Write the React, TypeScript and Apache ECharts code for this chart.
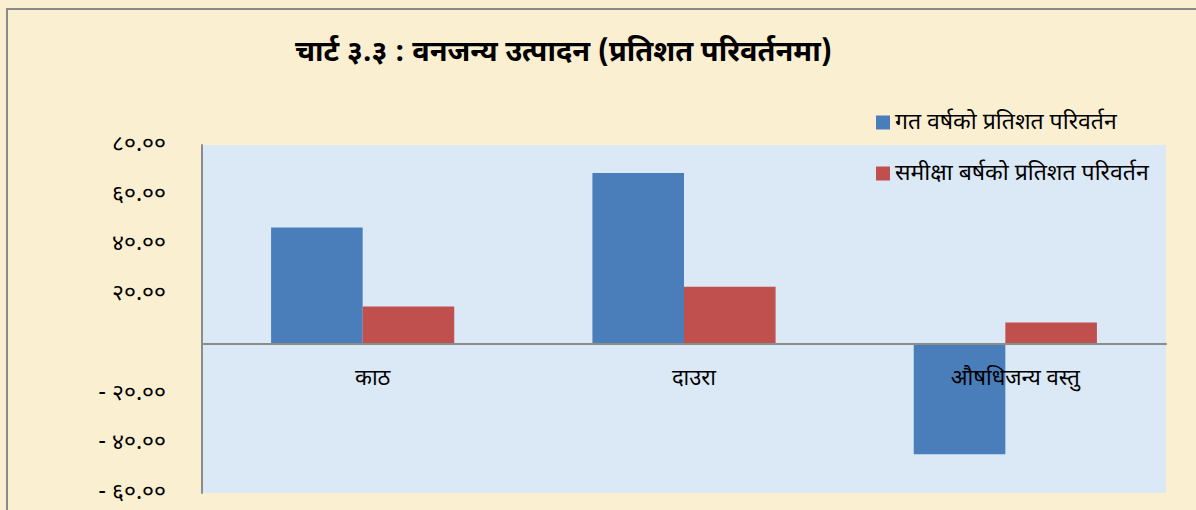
import React, { useEffect, useRef } from "react";
import * as echarts from "echarts";

const categories = ["काठ", "दाउरा", "औषधिजन्य वस्तु"];
const seriesNames = ["गत वर्षको प्रतिशत परिवर्तन", "समीक्षा बर्षको प्रतिशत परिवर्तन"];
const prevYear = [46.8, 68.7, -44.4];
const reviewYear = [15.0, 23.0, 8.6];
const yMin = -60;
const yMax = 80;
const yStep = 20;
const titleText = "चार्ट ३.३ : वनजन्य उत्पादन (प्रतिशत परिवर्तनमा)";

const devDigits = ["०", "१", "२", "३", "४", "५", "६", "७", "८", "९"];
const toDev = (s: string) => s.replace(/[0-9]/g, (d) => devDigits[+d]);

export default function App() {
  const ref = useRef<HTMLDivElement>(null);
  useEffect(() => {
    if (!ref.current) return;
    const chart = echarts.init(ref.current, null, { renderer: "svg" });
    const devFont = "'Noto Sans Devanagari', 'Lohit Devanagari', 'FreeSerif', serif";
    const gridTop = 145;
    const gridBottomY = 493;
    chart.setOption({
      animation: false,
      backgroundColor: "#FBEFD2",
      title: {
        text: titleText,
        left: 290,
        top: 34,
        textStyle: { fontSize: 29, fontWeight: "bold", color: "#000", fontFamily: devFont },
      },
      legend: {
        orient: "vertical",
        left: 871,
        top: 106,
        itemWidth: 14,
        itemHeight: 14,
        itemGap: 28,
        icon: "rect",
        textStyle: { fontSize: 23, color: "#000", fontFamily: devFont },
        data: seriesNames,
      },
      graphic: [
        {
          type: "rect",
          shape: { x: 7, y: 9, width: 1200, height: 520 },
          style: { fill: "none", stroke: "#8a8a8a", lineWidth: 2 },
          z: 100,
        },
      ],
      grid: {
        left: 202,
        right: 1196 - 1166,
        top: gridTop,
        bottom: 510 - gridBottomY,
        outerBoundsMode: "none",
        containLabel: false,
        show: true,
        backgroundColor: "#DBE8F6",
        borderWidth: 0,
      },
      xAxis: [
        {
          type: "category",
          data: categories,
          z: 5,
          axisTick: { show: false },
          axisLine: { onZero: true, lineStyle: { color: "#8c8c8c", width: 2 } },
          axisLabel: { show: false },
        },
        {
          type: "category",
          data: categories,
          position: "bottom",
          offset: -149,
          z: 20,
          axisTick: { show: false },
          axisLine: { show: false, onZero: false },
          axisLabel: {
            margin: 24,
            fontSize: 22,
            color: "#000",
            fontFamily: devFont,
            padding: [0, 0, 0, 20],
          },
        },
      ],
      yAxis: {
        type: "value",
        min: yMin,
        max: yMax,
        interval: yStep,
        splitLine: { show: false },
        axisTick: { show: false },
        axisLine: { show: true, onZero: false, lineStyle: { color: "#8c8c8c", width: 2 } },
        axisLabel: {
          margin: 36,
          fontSize: 23,
          color: "#000",
          fontFamily: devFont,
          formatter: (v: number) => {
            if (v === 0) return "";
            const s = toDev(Math.abs(v).toFixed(2));
            return v < 0 ? "- " + s : s;
          },
        },
      },
      series: [
        {
          name: seriesNames[0],
          type: "bar",
          data: prevYear,
          barGap: "0%",
          barCategoryGap: "43%",
          itemStyle: { color: "#4A7EBB" },
        },
        {
          name: seriesNames[1],
          type: "bar",
          data: reviewYear,
          barGap: "0%",
          barCategoryGap: "43%",
          itemStyle: { color: "#C0504D" },
        },
      ],
    });
    return () => chart.dispose();
  }, []);
  return (
    <div
      ref={ref}
      style={{ position: "fixed", left: 0, top: 0, width: 1196, height: 510 }}
    />
  );
}
